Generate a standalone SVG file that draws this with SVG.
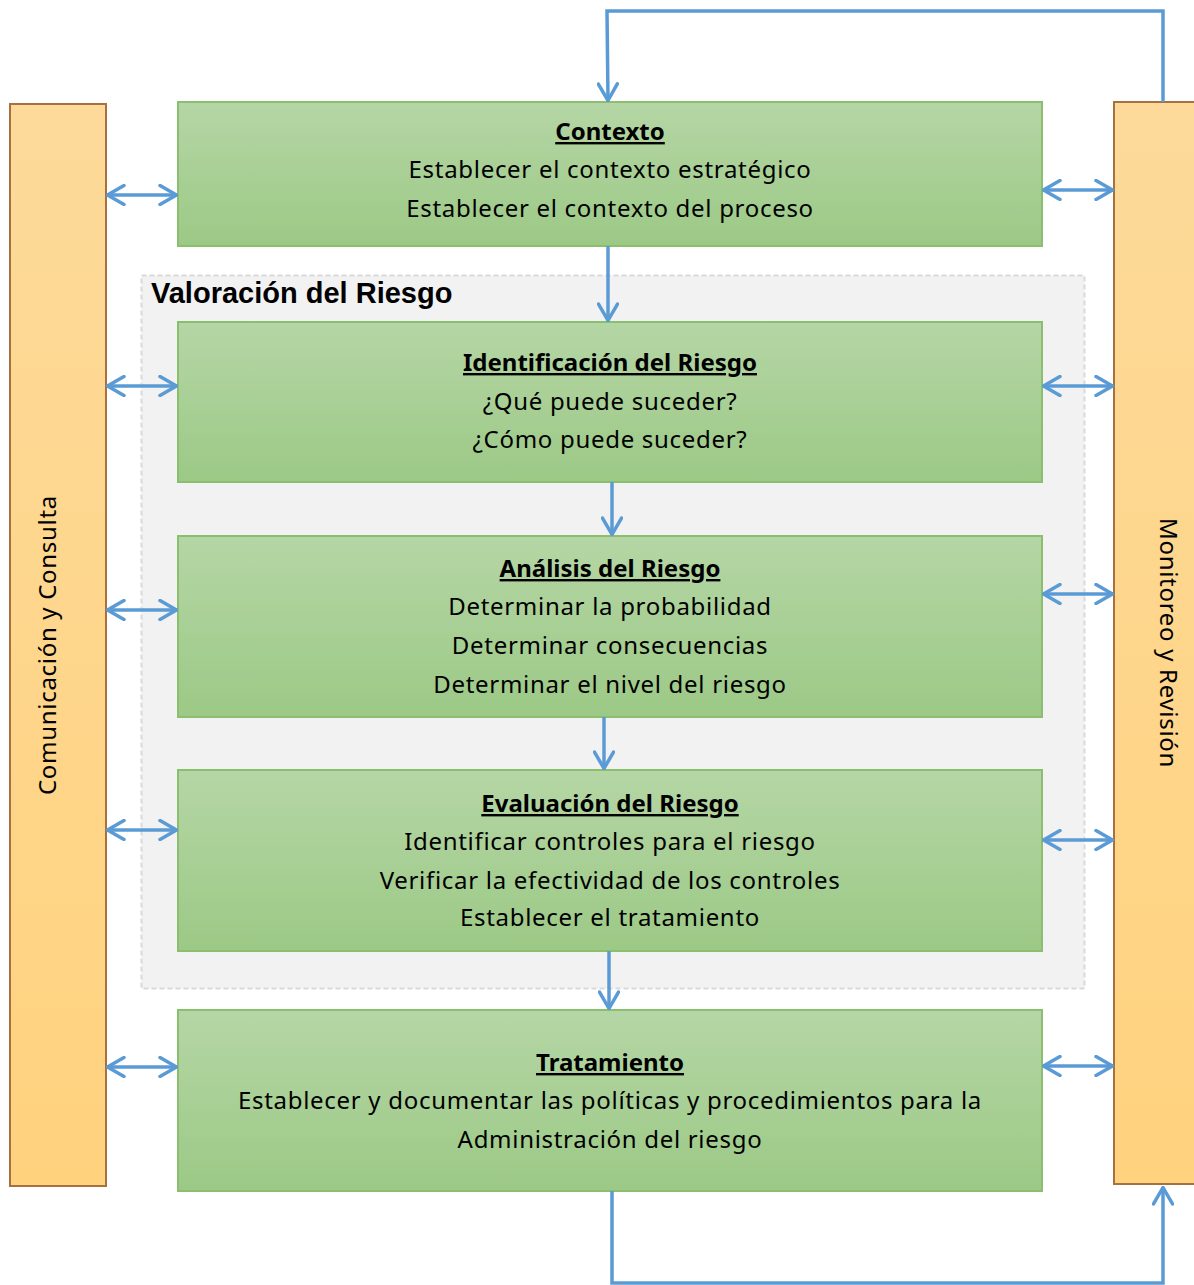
<svg xmlns="http://www.w3.org/2000/svg" width="1194" height="1285" viewBox="0 0 1194 1285">
<defs>
<linearGradient id="g" x1="0" y1="0" x2="0" y2="1"><stop offset="0" stop-color="#B5D6A5"/><stop offset="1" stop-color="#9CC986"/></linearGradient>
<linearGradient id="o" x1="0" y1="0" x2="0" y2="1"><stop offset="0" stop-color="#FDDA9A"/><stop offset="1" stop-color="#FFD27E"/></linearGradient>
<marker id="a" viewBox="0 0 20 22" refX="19" refY="11" markerWidth="20" markerHeight="22" markerUnits="userSpaceOnUse" orient="auto-start-reverse">
<path d="M2,1.5 L18.5,11 L2,20.5" fill="none" stroke="#5B9BD5" stroke-width="3.5" stroke-linecap="round" stroke-linejoin="round"/>
</marker>
</defs>
<style>
.box{fill:url(#g);stroke:#8BBE6E;stroke-width:2}
.side{fill:url(#o);stroke:#A8703E;stroke-width:2}
.c{fill:none;stroke:#5B9BD5;stroke-width:3.5}
text{font-family:"Noto Sans","Open Sans",sans-serif;font-size:24px;letter-spacing:0.7px;fill:#000;text-anchor:middle}
.t{font-weight:bold;text-decoration:underline;letter-spacing:0}
</style>
<rect width="1194" height="1285" fill="#fff"/>
<g id="valoracion">
<rect x="141.5" y="275.5" width="943" height="713" fill="#F2F2F2" stroke="#D9D9D9" stroke-width="2" stroke-dasharray="5,3"/>
<text x="151" y="303" style="font-family:'Liberation Sans',Arial,sans-serif;font-size:29px;font-weight:bold;text-anchor:start;letter-spacing:0">Valoración del Riesgo</text>
</g>
<g id="comunicacion">
<rect class="side" x="10" y="104" width="96" height="1082"/>
<text transform="translate(56,645) rotate(-90)">Comunicación y Consulta</text>
</g>
<g id="monitoreo">
<rect class="side" x="1114" y="102" width="90" height="1082"/>
<text transform="translate(1160,643) rotate(90)">Monitoreo y Revisión</text>
</g>
<g id="contexto">
<rect class="box" x="178" y="102" width="864" height="144"/>
<text class="t" x="610" y="140">Contexto</text>
<text x="610" y="178">Establecer el contexto estratégico</text>
<text x="610" y="217">Establecer el contexto del proceso</text>
</g>
<g id="identificacion">
<rect class="box" x="178" y="322" width="864" height="160"/>
<text class="t" x="610" y="371">Identificación del Riesgo</text>
<text x="610" y="410">¿Qué puede suceder?</text>
<text x="610" y="448">¿Cómo puede suceder?</text>
</g>
<g id="analisis">
<rect class="box" x="178" y="536" width="864" height="181"/>
<text class="t" x="610" y="577">Análisis del Riesgo</text>
<text x="610" y="615">Determinar la probabilidad</text>
<text x="610" y="654">Determinar consecuencias</text>
<text x="610" y="693">Determinar el nivel del riesgo</text>
</g>
<g id="evaluacion">
<rect class="box" x="178" y="770" width="864" height="181"/>
<text class="t" x="610" y="812">Evaluación del Riesgo</text>
<text x="610" y="850">Identificar controles para el riesgo</text>
<text x="610" y="889">Verificar la efectividad de los controles</text>
<text x="610" y="926">Establecer el tratamiento</text>
</g>
<g id="tratamiento">
<rect class="box" x="178" y="1010" width="864" height="181"/>
<text class="t" x="610" y="1071">Tratamiento</text>
<text x="610" y="1109">Establecer y documentar las políticas y procedimientos para la</text>
<text x="610" y="1148">Administración del riesgo</text>
</g>
<g id="connectors">
<polyline class="c" points="1163,102 1163,11 607,11 608,101" marker-end="url(#a)"/>
<line class="c" x1="608" y1="246" x2="608" y2="321" marker-end="url(#a)"/>
<line class="c" x1="612" y1="482" x2="612" y2="535" marker-end="url(#a)"/>
<line class="c" x1="604" y1="717" x2="604" y2="769" marker-end="url(#a)"/>
<line class="c" x1="609" y1="951" x2="609" y2="1009" marker-end="url(#a)"/>
<polyline class="c" points="612,1191 612,1283 1163,1283 1163,1187" marker-end="url(#a)"/>
<line class="c" x1="107" y1="195" x2="177" y2="195" marker-start="url(#a)" marker-end="url(#a)"/>
<line class="c" x1="107" y1="386" x2="177" y2="386" marker-start="url(#a)" marker-end="url(#a)"/>
<line class="c" x1="107" y1="610" x2="177" y2="610" marker-start="url(#a)" marker-end="url(#a)"/>
<line class="c" x1="107" y1="830" x2="177" y2="830" marker-start="url(#a)" marker-end="url(#a)"/>
<line class="c" x1="107" y1="1067" x2="177" y2="1067" marker-start="url(#a)" marker-end="url(#a)"/>
<line class="c" x1="1043" y1="190" x2="1113" y2="190" marker-start="url(#a)" marker-end="url(#a)"/>
<line class="c" x1="1043" y1="386" x2="1113" y2="386" marker-start="url(#a)" marker-end="url(#a)"/>
<line class="c" x1="1043" y1="594" x2="1113" y2="594" marker-start="url(#a)" marker-end="url(#a)"/>
<line class="c" x1="1043" y1="840" x2="1113" y2="840" marker-start="url(#a)" marker-end="url(#a)"/>
<line class="c" x1="1043" y1="1066" x2="1113" y2="1066" marker-start="url(#a)" marker-end="url(#a)"/>
</g>
</svg>
